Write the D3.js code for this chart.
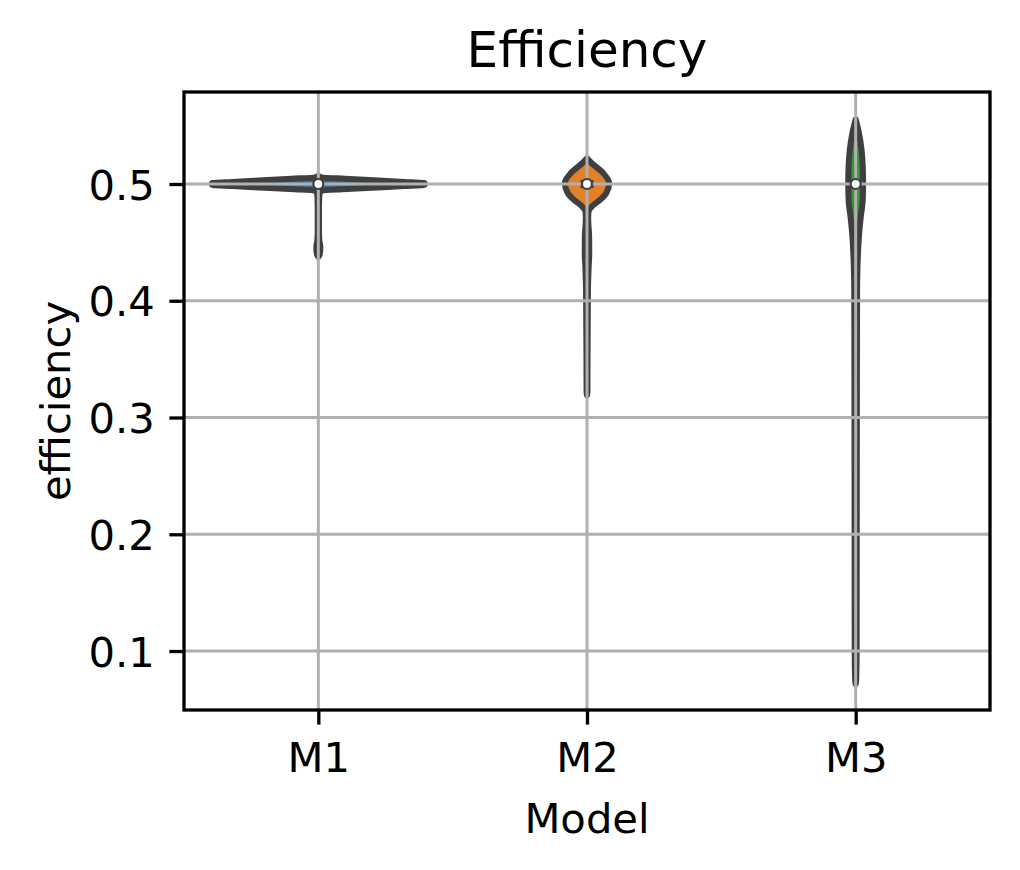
<!DOCTYPE html>
<html>
<head>
<meta charset="utf-8">
<script src="https://cdn.jsdelivr.net/npm/d3@7"></script>
<style>
  body { margin: 0; background: #fff; }
  text { font-family: "DejaVu Sans", sans-serif; fill: #000; }
</style>
</head>
<body>
<svg width="1020" height="870"></svg>
<script>
// categories and colours
var models = ["M1", "M2", "M3"];
var colors = ["#3274a1", "#e1812c", "#3a923a"];

// violin outlines: [efficiency, relative half width]
var m1Profile = [
    [0.4375, 0], [0.439, 0.01], [0.443, 0.018], [0.447, 0.018], [0.451, 0.01],
    [0.46, 0.006], [0.475, 0.006], [0.488, 0.008], [0.4925, 0.013], [0.4942, 0.03],
    [0.4955, 0.22], [0.4968, 0.5], [0.4982, 0.8], [0.4994, 0.99], [0.5006, 0.99],
    [0.5018, 0.8], [0.5032, 0.52], [0.5045, 0.25], [0.5055, 0.04], [0.507, 0]
];
var m2Profile = [
    [0.319, 0], [0.322, 0.004], [0.35, 0.005], [0.38, 0.007], [0.41, 0.009],
    [0.43, 0.016], [0.44, 0.021], [0.455, 0.02], [0.47, 0.011], [0.4763, 0.014],
    [0.4806, 0.043], [0.4863, 0.12], [0.4923, 0.18], [0.5009, 0.206], [0.5094, 0.15],
    [0.518, 0.042], [0.522, 0]
];
var m3Profile = [
    [0.0717, 0], [0.075, 0.005], [0.1, 0.009], [0.2, 0.01], [0.3, 0.011],
    [0.4066, 0.013], [0.4292, 0.017], [0.4435, 0.023], [0.458, 0.033], [0.472, 0.048],
    [0.4863, 0.066], [0.5006, 0.069], [0.5148, 0.066], [0.5291, 0.055], [0.5434, 0.031],
    [0.5554, 0]
];
var profiles = [m1Profile, m2Profile, m3Profile];

// inner box stats
var medians = [0.5, 0.5, 0.5];
var q1 = [0.4995, 0.4965, 0.4985];
var q3 = [0.5005, 0.5035, 0.5015];

var yTicks = [0.1, 0.2, 0.3, 0.4, 0.5];

var svg = d3.select("svg"),
    margin = { top: 92, right: 30, bottom: 160, left: 184 },
    width = +svg.attr("width") - margin.left - margin.right,
    height = +svg.attr("height") - margin.top - margin.bottom;

var fs = 41.7; // 10pt at 300 dpi
var g = svg.append("g")
    .attr("transform", "translate(" + margin.left + "," + margin.top + ")");

var x = d3.scalePoint()
    .domain(models)
    .range([0, width])
    .padding(0.5);

var y = d3.scaleLinear()
    .domain([0.0495, 0.5788])
    .range([height, 0]);

var w = d3.scaleLinear()
    .domain([0, 1])
    .range([0, 0.4 * x.step()]);

// violins
models.forEach(function(m, i) {
    var cx = x(m);
    var area = d3.area()
        .y(function(d) { return y(d[0]); })
        .x0(function(d) { return cx - w(d[1]); })
        .x1(function(d) { return cx + w(d[1]); })
        .curve(d3.curveMonotoneY);
    g.append("path")
        .datum(profiles[i])
        .attr("d", area)
        .style("fill", colors[i])
        .style("stroke", "#3f3f3f")
        .style("stroke-width", 6)
        .style("stroke-linejoin", "round");

    g.append("line")
        .attr("x1", cx).attr("x2", cx)
        .attr("y1", y(q1[i])).attr("y2", y(q3[i]))
        .style("stroke", "#3f3f3f")
        .style("stroke-width", 13);
});

// grid on top of the violin bodies
g.append("g")
    .selectAll("line")
    .data(yTicks)
    .enter().append("line")
    .attr("x1", 0).attr("x2", width)
    .attr("y1", function(d) { return y(d); })
    .attr("y2", function(d) { return y(d); })
    .style("stroke", "#b0b0b0")
    .style("stroke-width", 3);

g.append("g")
    .selectAll("line")
    .data(models)
    .enter().append("line")
    .attr("x1", function(d) { return x(d); })
    .attr("x2", function(d) { return x(d); })
    .attr("y1", 0).attr("y2", height)
    .style("stroke", "#b0b0b0")
    .style("stroke-width", 3);

// median dots
g.selectAll(".median")
    .data(models)
    .enter().append("circle")
    .attr("class", "median")
    .attr("cx", function(d) { return x(d); })
    .attr("cy", function(d, i) { return y(medians[i]); })
    .attr("r", 5)
    .style("fill", "#fff")
    .style("stroke", "#3f3f3f")
    .style("stroke-width", 2.2);

// axes
var yAxis = g.append("g")
    .call(d3.axisLeft(y).tickValues(yTicks).tickSize(14.6).tickPadding(14.6)
        .tickFormat(d3.format(".1f")));
yAxis.select(".domain").remove();
yAxis.selectAll("line").style("stroke", "#000").style("stroke-width", 3.3);
yAxis.selectAll("text").style("font-size", fs + "px")
    .style("font-family", "DejaVu Sans").attr("dy", "0.36em");

var xAxis = g.append("g")
    .attr("transform", "translate(0," + height + ")")
    .call(d3.axisBottom(x).tickSize(14.6).tickPadding(14.6));
xAxis.select(".domain").remove();
xAxis.selectAll("line").style("stroke", "#000").style("stroke-width", 3.3);
xAxis.selectAll("text").style("font-size", fs + "px")
    .style("font-family", "DejaVu Sans").attr("dy", "0.78em");

// spines
g.append("rect")
    .attr("width", width)
    .attr("height", height)
    .style("fill", "none")
    .style("stroke", "#000")
    .style("stroke-width", 3.3);

// labels
svg.append("text")
    .attr("x", margin.left + width / 2)
    .attr("y", 67)
    .attr("text-anchor", "middle")
    .style("font-size", "50px")
    .text("Efficiency");

svg.append("text")
    .attr("x", margin.left + width / 2)
    .attr("y", 833)
    .attr("text-anchor", "middle")
    .style("font-size", fs + "px")
    .text("Model");

svg.append("text")
    .attr("transform", "translate(70," + (margin.top + height / 2) + ") rotate(-90)")
    .attr("text-anchor", "middle")
    .style("font-size", fs + "px")
    .text("efficiency");
</script>
</body>
</html>
